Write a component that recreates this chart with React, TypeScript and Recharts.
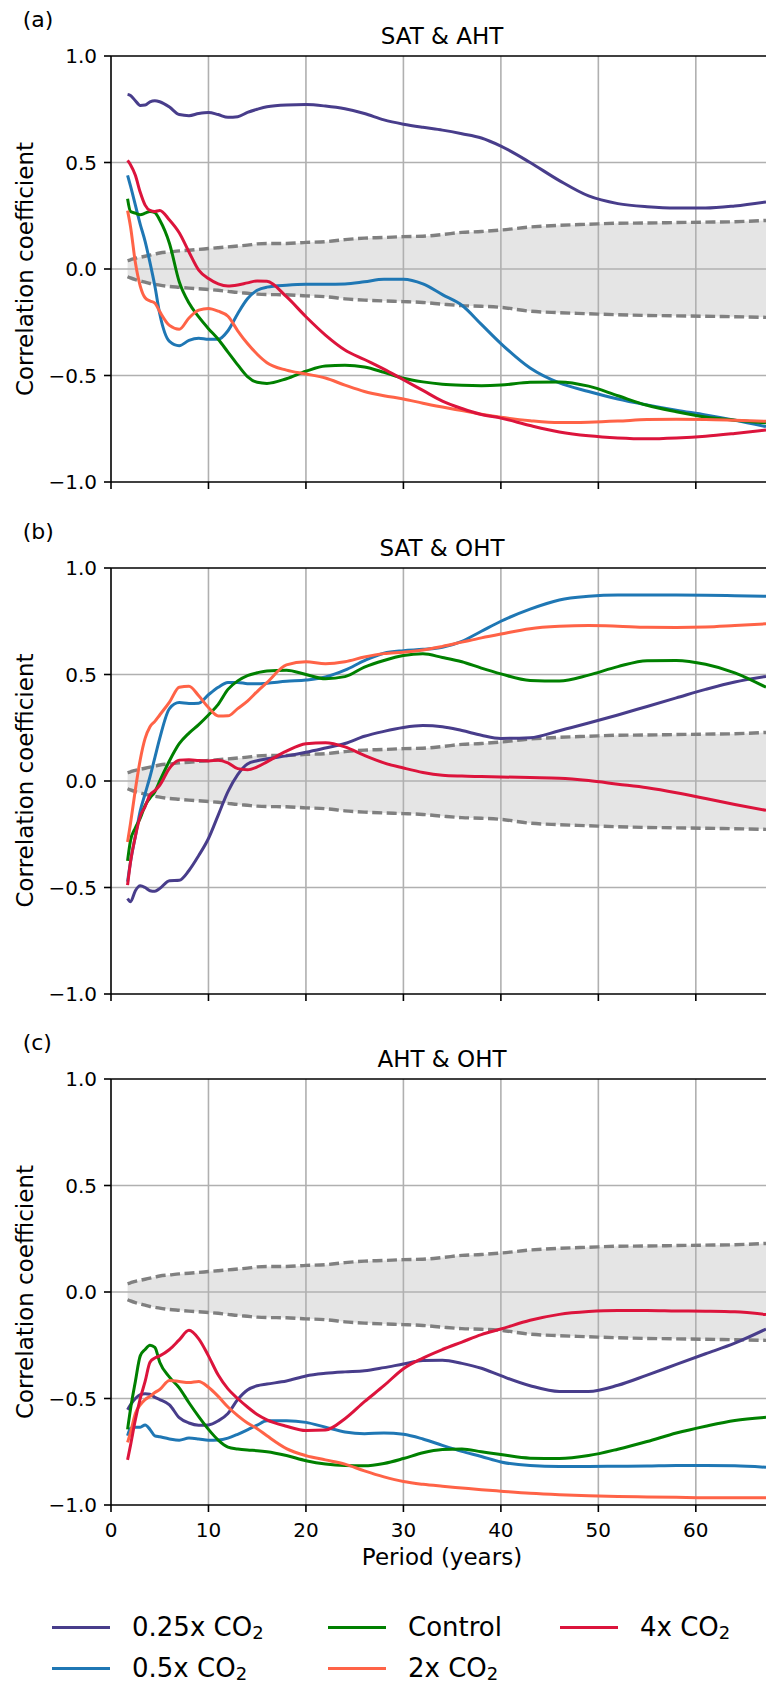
import React from 'react';
import { ComposedChart, Line, Area, XAxis, YAxis, ReferenceLine } from 'recharts';

// periods (years) shared by every curve
const PERIODS = [1.7, 2, 2.5, 3, 3.5, 4, 4.5, 5, 6, 7, 8, 9, 10, 11, 12, 13, 14, 15, 16, 18, 20, 22, 24, 26, 28, 30, 32, 34, 36, 38, 40, 43, 46, 49, 52, 55, 58, 61, 64, 67.2];

// significance band (same in all panels)
const UPPER = [0.039, 0.043, 0.05, 0.055, 0.06, 0.065, 0.07, 0.075, 0.08, 0.085, 0.088, 0.092, 0.096, 0.1, 0.104, 0.108, 0.112, 0.118, 0.12, 0.12, 0.125, 0.128, 0.138, 0.145, 0.148, 0.152, 0.154, 0.162, 0.172, 0.176, 0.183, 0.197, 0.205, 0.21, 0.215, 0.216, 0.218, 0.22, 0.222, 0.228];
const LOWER = [-0.036, -0.042, -0.05, -0.056, -0.062, -0.068, -0.072, -0.076, -0.082, -0.086, -0.09, -0.093, -0.096, -0.1, -0.105, -0.11, -0.114, -0.118, -0.12, -0.121, -0.126, -0.13, -0.14, -0.146, -0.15, -0.153, -0.157, -0.165, -0.172, -0.175, -0.18, -0.198, -0.205, -0.21, -0.215, -0.218, -0.22, -0.222, -0.224, -0.227];

// (a) SAT & AHT
const A_QUARTER = [0.82, 0.815, 0.79, 0.768, 0.77, 0.785, 0.79, 0.785, 0.76, 0.725, 0.72, 0.73, 0.735, 0.725, 0.712, 0.715, 0.735, 0.75, 0.762, 0.77, 0.772, 0.765, 0.752, 0.73, 0.7, 0.68, 0.665, 0.652, 0.635, 0.615, 0.577, 0.5, 0.415, 0.343, 0.307, 0.292, 0.286, 0.286, 0.296, 0.315];
const A_HALF = [0.44, 0.39, 0.3, 0.21, 0.13, 0.03, -0.08, -0.21, -0.34, -0.36, -0.335, -0.325, -0.33, -0.33, -0.29, -0.21, -0.14, -0.1, -0.085, -0.076, -0.072, -0.072, -0.07, -0.06, -0.048, -0.048, -0.07, -0.12, -0.17, -0.26, -0.35, -0.465, -0.535, -0.575, -0.61, -0.638, -0.663, -0.685, -0.71, -0.74];
const A_CTRL = [0.33, 0.27, 0.262, 0.255, 0.262, 0.27, 0.265, 0.23, 0.12, -0.06, -0.16, -0.225, -0.28, -0.33, -0.39, -0.45, -0.505, -0.532, -0.537, -0.515, -0.48, -0.455, -0.452, -0.46, -0.485, -0.513, -0.53, -0.541, -0.546, -0.548, -0.545, -0.532, -0.53, -0.55, -0.595, -0.64, -0.67, -0.695, -0.71, -0.722];
const A_DOUBLE = [0.274, 0.2, 0.03, -0.08, -0.135, -0.15, -0.16, -0.2, -0.265, -0.283, -0.23, -0.193, -0.185, -0.198, -0.222, -0.29, -0.35, -0.4, -0.44, -0.475, -0.493, -0.512, -0.545, -0.575, -0.595, -0.61, -0.63, -0.648, -0.665, -0.682, -0.696, -0.712, -0.721, -0.719, -0.714, -0.707, -0.705, -0.706, -0.71, -0.715];
const A_QUAD = [0.51, 0.49, 0.44, 0.36, 0.3, 0.275, 0.27, 0.275, 0.23, 0.17, 0.08, -0.005, -0.045, -0.07, -0.08, -0.075, -0.065, -0.056, -0.058, -0.13, -0.224, -0.31, -0.38, -0.425, -0.47, -0.52, -0.57, -0.62, -0.655, -0.683, -0.7, -0.735, -0.765, -0.783, -0.793, -0.797, -0.793, -0.785, -0.772, -0.756];

// (b) SAT & OHT
const B_QUARTER = [-0.552, -0.567, -0.515, -0.492, -0.5, -0.515, -0.518, -0.505, -0.468, -0.466, -0.42, -0.35, -0.27, -0.16, -0.05, 0.03, 0.08, 0.095, 0.104, 0.118, 0.135, 0.155, 0.176, 0.21, 0.233, 0.251, 0.26, 0.255, 0.237, 0.215, 0.2, 0.203, 0.236, 0.272, 0.31, 0.35, 0.39, 0.43, 0.465, 0.491];
const B_HALF = [-0.473, -0.38, -0.26, -0.14, -0.06, 0.02, 0.11, 0.2, 0.34, 0.368, 0.364, 0.365, 0.405, 0.44, 0.462, 0.463, 0.457, 0.456, 0.459, 0.468, 0.474, 0.488, 0.52, 0.565, 0.6, 0.612, 0.618, 0.628, 0.656, 0.703, 0.75, 0.807, 0.85, 0.867, 0.873, 0.873, 0.873, 0.872, 0.87, 0.867];
const B_CTRL = [-0.375, -0.28, -0.22, -0.175, -0.115, -0.08, -0.05, 0.0, 0.095, 0.175, 0.225, 0.265, 0.31, 0.36, 0.43, 0.47, 0.495, 0.508, 0.517, 0.52, 0.5, 0.48, 0.49, 0.535, 0.566, 0.589, 0.597, 0.58, 0.56, 0.53, 0.503, 0.472, 0.469, 0.497, 0.537, 0.565, 0.566, 0.548, 0.508, 0.44];
const B_DOUBLE = [-0.286, -0.2, -0.04, 0.1, 0.2, 0.255, 0.28, 0.31, 0.37, 0.44, 0.445, 0.4, 0.345, 0.305, 0.306, 0.34, 0.375, 0.42, 0.462, 0.545, 0.56, 0.551, 0.56, 0.582, 0.598, 0.605, 0.615, 0.632, 0.652, 0.672, 0.69, 0.715, 0.726, 0.73, 0.727, 0.722, 0.721, 0.723, 0.73, 0.738];
const B_QUAD = [-0.489, -0.38, -0.26, -0.165, -0.12, -0.065, -0.045, -0.02, 0.06, 0.098, 0.1, 0.096, 0.094, 0.098, 0.085, 0.058, 0.053, 0.066, 0.09, 0.14, 0.175, 0.18, 0.16, 0.12, 0.085, 0.061, 0.04, 0.027, 0.023, 0.021, 0.019, 0.016, 0.013, 0.002, -0.015, -0.032, -0.055, -0.082, -0.11, -0.138];

// (c) AHT & OHT
const C_QUARTER = [-0.553, -0.53, -0.5, -0.482, -0.478, -0.48, -0.495, -0.505, -0.53, -0.59, -0.615, -0.625, -0.624, -0.605, -0.57, -0.505, -0.46, -0.44, -0.432, -0.418, -0.394, -0.382, -0.375, -0.37, -0.355, -0.338, -0.322, -0.32, -0.335, -0.358, -0.393, -0.44, -0.467, -0.467, -0.438, -0.39, -0.34, -0.29, -0.24, -0.174];
const C_HALF = [-0.675, -0.64, -0.635, -0.635, -0.624, -0.645, -0.675, -0.68, -0.69, -0.696, -0.686, -0.69, -0.696, -0.695, -0.686, -0.668, -0.647, -0.625, -0.605, -0.604, -0.612, -0.635, -0.657, -0.665, -0.662, -0.668, -0.69, -0.72, -0.748, -0.772, -0.798, -0.815, -0.819, -0.819, -0.818, -0.817, -0.815, -0.815, -0.816, -0.823];
const C_CTRL = [-0.645, -0.55, -0.42, -0.3, -0.27, -0.25, -0.26, -0.33, -0.4, -0.45, -0.52, -0.585, -0.645, -0.695, -0.728, -0.737, -0.742, -0.745, -0.75, -0.768, -0.792, -0.808, -0.815, -0.816, -0.805, -0.782, -0.755, -0.74, -0.737, -0.75, -0.763, -0.78, -0.782, -0.768, -0.738, -0.702, -0.662, -0.63, -0.603, -0.588];
const C_DOUBLE = [-0.706, -0.66, -0.57, -0.53, -0.505, -0.49, -0.472, -0.458, -0.415, -0.42, -0.425, -0.42, -0.447, -0.49, -0.54, -0.58, -0.615, -0.642, -0.675, -0.735, -0.768, -0.788, -0.808, -0.84, -0.868, -0.89, -0.903, -0.912, -0.92, -0.928, -0.935, -0.945, -0.952, -0.957, -0.96, -0.962, -0.964, -0.966, -0.966, -0.966];
const C_QUAD = [-0.788, -0.72, -0.6, -0.5, -0.42, -0.33, -0.31, -0.3, -0.27, -0.225, -0.18, -0.22, -0.3, -0.39, -0.455, -0.5, -0.54, -0.575, -0.6, -0.63, -0.65, -0.648, -0.595, -0.515, -0.44, -0.36, -0.31, -0.27, -0.235, -0.2, -0.174, -0.133, -0.105, -0.092, -0.087, -0.087, -0.089, -0.09, -0.093, -0.106];

const X_TICKS = [0, 10, 20, 30, 40, 50, 60];
const Y_TICKS = [-1, -0.5, 0, 0.5, 1];
const GRID_X = [10, 20, 30, 40, 50, 60];
const GRID_Y = [-0.5, 0, 0.5];

const SERIES = [
  { key: 'quarter', label: '0.25x CO', sub: '2', color: '#483d8b' },
  { key: 'half', label: '0.5x CO', sub: '2', color: '#1f77b4' },
  { key: 'ctrl', label: 'Control', sub: '', color: '#008000' },
  { key: 'double', label: '2x CO', sub: '2', color: '#ff6347' },
  { key: 'quad', label: '4x CO', sub: '2', color: '#dc143c' },
];

const PANELS = [
  { tag: '(a)', title: 'SAT & AHT', values: { quarter: A_QUARTER, half: A_HALF, ctrl: A_CTRL, double: A_DOUBLE, quad: A_QUAD } },
  { tag: '(b)', title: 'SAT & OHT', values: { quarter: B_QUARTER, half: B_HALF, ctrl: B_CTRL, double: B_DOUBLE, quad: B_QUAD } },
  { tag: '(c)', title: 'AHT & OHT', values: { quarter: C_QUARTER, half: C_HALF, ctrl: C_CTRL, double: C_DOUBLE, quad: C_QUAD } },
];

const PANEL_STEP = 511.5;
const fmtY = (v: number) => (v < 0 ? '\u2212' : '') + Math.abs(v).toFixed(1);

function Panel({ panel, index }: { panel: any; index: number }) {
  const last = index === PANELS.length - 1;
  const rows = PERIODS.map((p, i) => {
    const row: any = { p, band: [LOWER[i], UPPER[i]], lo: LOWER[i], hi: UPPER[i] };
    SERIES.forEach(s => { row[s.key] = panel.values[s.key][i]; });
    return row;
  });
  const xh = last ? 60 : 29;
  const axisStyle = { stroke: '#000', strokeWidth: 1.6 };

  return (
    <div style={{ position: 'absolute', left: 0, top: Math.round(index * PANEL_STEP) }}>
      <ComposedChart width={766} height={56 + 426 + xh} data={rows} margin={{ top: 56, right: 0, bottom: 0, left: 0 }}>
        <XAxis
          type="number"
          dataKey="p"
          domain={[0, 67.2]}
          ticks={X_TICKS}
          interval={0}
          allowDataOverflow
          height={xh}
          axisLine={axisStyle}
          tickLine={axisStyle}
          tickSize={7}
          tickMargin={11}
          tick={{ fontSize: 20, fill: '#000' }}
          tickFormatter={last ? (v: number) => String(v) : () => ''}
        />
        <YAxis
          type="number"
          domain={[-1, 1]}
          ticks={Y_TICKS}
          interval={0}
          width={111}
          axisLine={axisStyle}
          tickLine={axisStyle}
          tickSize={7}
          tickMargin={7}
          tick={{ fontSize: 20, fill: '#000' }}
          tickFormatter={fmtY}
        />
        <Area type="monotone" dataKey="band" fill="#d3d3d3" fillOpacity={0.6} stroke="none" isAnimationActive={false} />
        {GRID_X.map(x => (
          <ReferenceLine key={'gx' + x} x={x} stroke="#b0b0b0" strokeWidth={1.6} />
        ))}
        {GRID_Y.map(y => (
          <ReferenceLine key={'gy' + y} y={y} stroke="#b0b0b0" strokeWidth={1.6} />
        ))}
        <ReferenceLine y={1} stroke="#000" strokeWidth={1.6} />
        <Line type="monotone" dataKey="lo" stroke="#808080" strokeWidth={3.4} strokeDasharray="10 4.5" dot={false} activeDot={false} isAnimationActive={false} />
        <Line type="monotone" dataKey="hi" stroke="#808080" strokeWidth={3.4} strokeDasharray="10 4.5" dot={false} activeDot={false} isAnimationActive={false} />
        {SERIES.map(s => (
          <Line key={s.key} type="monotone" dataKey={s.key} stroke={s.color} strokeWidth={3} dot={false} activeDot={false} isAnimationActive={false} />
        ))}
      </ComposedChart>
    </div>
  );
}

const LEGEND_COLS = [52, 328, 560];
const LEGEND_ROWS = [1627.5, 1668.5];

export default function App() {
  return (
    <div style={{ position: 'absolute', left: 0, top: 0, width: 766, height: 1684, overflow: 'hidden', background: '#fff', fontFamily: 'DejaVu Sans' }}>
      {PANELS.map((p, i) => (
        <Panel key={p.tag} panel={p} index={i} />
      ))}
      <svg width={766} height={1684} style={{ position: 'absolute', left: 0, top: 0, pointerEvents: 'none' }} fontFamily="DejaVu Sans">
        {PANELS.map((p, i) => {
          const off = i * PANEL_STEP;
          return (
            <g key={p.tag}>
              <text x={22.7} y={27 + off} fontSize={22} fill="#000">{p.tag}</text>
              <text x={442} y={44 + off} fontSize={23} fill="#000" textAnchor="middle">{p.title}</text>
              <text transform={`translate(33, ${269 + off}) rotate(-90)`} fontSize={23} fill="#000" textAnchor="middle">Correlation coefficient</text>
            </g>
          );
        })}
        <text x={442} y={1565} fontSize={23} fill="#000" textAnchor="middle">Period (years)</text>
        {SERIES.map((s, i) => {
          const x = LEGEND_COLS[Math.floor(i / 2)];
          const y = LEGEND_ROWS[i % 2];
          return (
            <g key={s.key}>
              <line x1={x} x2={x + 58} y1={y} y2={y} stroke={s.color} strokeWidth={3} />
              <text x={x + 80} y={y + 8.5} fontSize={26} fill="#000">
                {s.label}
                {s.sub ? <tspan fontSize={18} dy={2.5}>{s.sub}</tspan> : null}
              </text>
            </g>
          );
        })}
      </svg>
    </div>
  );
}
